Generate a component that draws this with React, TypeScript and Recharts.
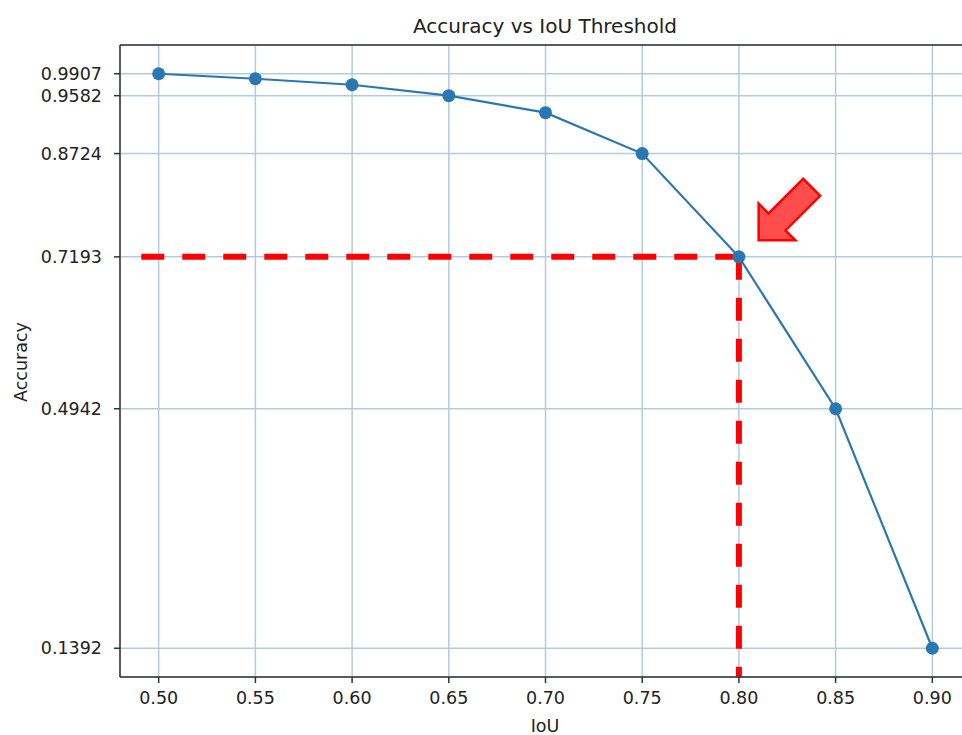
import { LineChart, Line, XAxis, YAxis, CartesianGrid, ReferenceLine, ReferenceDot } from 'recharts';

const iouValues = [0.5, 0.55, 0.6, 0.65, 0.7, 0.75, 0.8, 0.85, 0.9];
const accuracyValues = [0.9907, 0.9833, 0.9744, 0.9582, 0.933, 0.8724, 0.7193, 0.4942, 0.1392];
const yTicks = [0.1392, 0.4942, 0.7193, 0.8724, 0.9582, 0.9907];
const xDomain: [number, number] = [0.48, 0.92];
const yDomain: [number, number] = [0.0966, 1.0333];
const chosenIou = 0.8;
const chosenAccuracy = 0.7193;
const dashStartIou = 0.491;
const arrowTip = { x: 0.8102, y: 0.7438 };

const data = iouValues.map((iou, i) => ({ iou, accuracy: accuracyValues[i] }));

const FONT = '"DejaVu Sans", sans-serif';

// block arrow pointing down-left, tip at (cx, cy)
function ArrowShape(props: any) {
  const { cx, cy } = props;
  if (cx == null || cy == null) return null;
  const local = [[0, 0], [26, -26], [26, -12], [75, -12], [75, 12], [26, 12], [26, 26]];
  const k = Math.SQRT1_2;
  const pts = local.map(([a, b]) => `${cx + (a + b) * k},${cy + (b - a) * k}`).join(' ');
  return <polygon points={pts} fill="#ff4d4d" stroke="#ff0000" strokeWidth={2.5} strokeLinejoin="miter" />;
}

export default function App() {
  return (
    <div style={{ position: 'absolute', left: 0, top: 0, width: 962, height: 735, overflow: 'hidden', background: '#fff', fontFamily: FONT }}>
      <LineChart width={1000} height={735} data={data} margin={{ top: 45, right: 29, left: 0, bottom: 28 }}>
        <CartesianGrid stroke="#b3cbe0" strokeWidth={1.5} />
        <XAxis
          dataKey="iou"
          type="number"
          domain={xDomain}
          ticks={iouValues}
          tickFormatter={(v: number) => v.toFixed(2)}
          height={30}
          tick={{ fontSize: 17.5, fill: '#222', fontFamily: FONT }}
          tickSize={6}
          tickMargin={9}
          axisLine={{ stroke: '#333', strokeWidth: 1.5 }}
          tickLine={{ stroke: '#333', strokeWidth: 1.5 }}
          allowDataOverflow
        />
        <YAxis
          type="number"
          domain={yDomain}
          ticks={yTicks}
          tickFormatter={(v: number) => v.toFixed(4)}
          width={120}
          tick={{ fontSize: 17.5, fill: '#222', fontFamily: FONT }}
          tickSize={6}
          tickMargin={12}
          axisLine={{ stroke: '#333', strokeWidth: 1.5 }}
          tickLine={{ stroke: '#333', strokeWidth: 1.5 }}
          allowDataOverflow
          interval={0}
        />
        <ReferenceLine y={yDomain[1]} stroke="#333" strokeWidth={1.5} />
        <ReferenceLine
          segment={[{ x: dashStartIou, y: chosenAccuracy }, { x: chosenIou, y: chosenAccuracy }]}
          stroke="#ff0000"
          strokeWidth={6}
          strokeDasharray="23 18"
        />
        <ReferenceLine
          segment={[{ x: chosenIou, y: chosenAccuracy }, { x: chosenIou, y: yDomain[0] }]}
          stroke="#ff0000"
          strokeWidth={6}
          strokeDasharray="23 18"
        />
        <Line
          type="linear"
          dataKey="accuracy"
          stroke="#2a78b2"
          strokeWidth={2.2}
          dot={{ r: 6.5, fill: '#2a78b2', stroke: '#2a78b2', strokeWidth: 0 }}
          isAnimationActive={false}
        />
        <ReferenceDot x={arrowTip.x} y={arrowTip.y} r={1} ifOverflow="visible" shape={ArrowShape} />
      </LineChart>
      <svg width={962} height={735} style={{ position: 'absolute', left: 0, top: 0, pointerEvents: 'none' }}>
        <text x={545} y={33} textAnchor="middle" fontSize={20} fill="#222" fontFamily={FONT}>
          Accuracy vs IoU Threshold
        </text>
        <text x={545} y={732} textAnchor="middle" fontSize={17.5} fill="#222" fontFamily={FONT}>
          IoU
        </text>
        <text x={27} y={362} textAnchor="middle" fontSize={17.5} fill="#222" fontFamily={FONT} transform="rotate(-90 27 362)">
          Accuracy
        </text>
      </svg>
    </div>
  );
}
